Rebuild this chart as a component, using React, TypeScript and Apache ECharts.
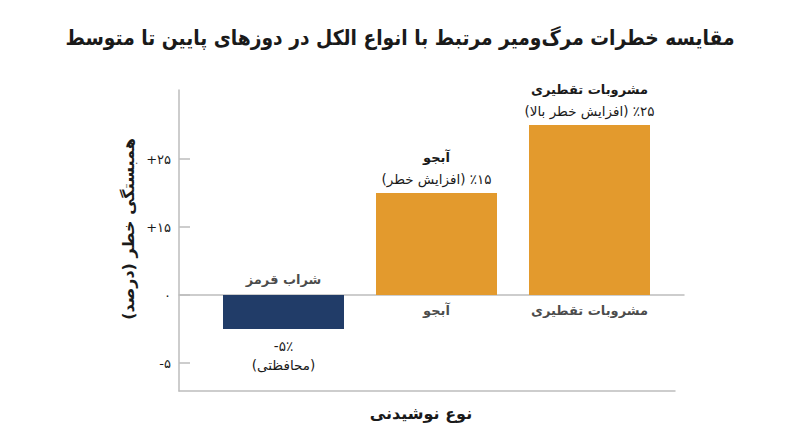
import React, { useEffect, useRef } from 'react';
import * as echarts from 'echarts';

// right-to-left marks around texts with Persian letters, so parentheses and
// numbers keep their Persian order inside the svg's ltr text
const RLM = '\u200F';
const rtl = (s: string) => (/[\u0621-\u064A\u067E-\u06D3]/.test(s) ? `${RLM}${s}${RLM}` : s);

const TITLE = 'مقایسه خطرات مرگ‌ومیر مرتبط با انواع الکل در دوزهای پایین تا متوسط';
const Y_NAME = 'همبستگی خطر (درصد)';
const X_NAME = 'نوع نوشیدنی';

const categories = ['شراب قرمز', 'آبجو', 'مشروبات تقطیری'];
const riskValues = [-5, 15, 25];
const riskNotes = [['-۵٪', '(محافظتی)'], ['٪۱۵ (افزایش خطر)'], ['٪۲۵ (افزایش خطر بالا)']];

// tick positions on the value scale and the labels the chart prints there
const yTickValues = [-10, 0, 10, 20];
const yTickLabels = ['-۵', '۰', '+۱۵', '+۲۵'];

const Y_MIN = -14.1;
const Y_MAX = 30.15;

const FONT = '"DejaVu Sans", "Noto Sans", sans-serif';
const ORANGE = '#E39A2D';
const NAVY = '#213C68';
const AXIS = '#BDBDBD';
const TEXT = '#1a1a1a';

export default function App() {
  const chartRef = useRef<HTMLDivElement | null>(null);

  useEffect(() => {
    if (!chartRef.current) return;
    const inst = echarts.init(chartRef.current, undefined, { renderer: 'svg' });

    const frame = { top: 90, height: 301 };
    const hiddenY = (gridIndex: number) => ({
      gridIndex,
      type: 'value' as const,
      min: Y_MIN,
      max: Y_MAX,
      show: false,
    });

    inst.setOption({
      animation: false,
      textStyle: { fontFamily: FONT },
      grid: [
        { left: 179, width: 505, ...frame },
        { left: 207, width: 459, ...frame },
        { left: 179, width: 496, ...frame },
      ],
      xAxis: [
        {
          gridIndex: 0,
          type: 'value',
          min: 0,
          max: 1,
          axisLine: { show: true, onZero: true, lineStyle: { color: AXIS, width: 1.5 } },
          axisTick: { show: false },
          axisLabel: { show: false },
          splitLine: { show: false },
        },
        {
          gridIndex: 1,
          type: 'category',
          data: categories,
          show: false,
        },
        {
          gridIndex: 2,
          type: 'value',
          min: 0,
          max: 1,
          position: 'bottom',
          axisLine: { show: true, onZero: false, lineStyle: { color: AXIS, width: 1.5 } },
          axisTick: { show: false },
          axisLabel: { show: false },
          splitLine: { show: false },
        },
      ],
      yAxis: [
        {
          gridIndex: 0,
          type: 'value',
          min: Y_MIN,
          max: Y_MAX,
          axisLine: { show: true, lineStyle: { color: AXIS, width: 1.5 } },
          axisTick: {
            show: true,
            inside: true,
            length: 11,
            customValues: yTickValues,
            lineStyle: { color: AXIS, width: 1.5 },
          },
          axisLabel: {
            customValues: yTickValues,
            margin: 8,
            color: TEXT,
            fontSize: 13,
            fontFamily: FONT,
            formatter: (v: number) => yTickLabels[yTickValues.indexOf(v)] ?? '',
          },
          splitLine: { show: false },
        },
        hiddenY(1),
        hiddenY(2),
      ],
      graphic: [
        {
          type: 'text',
          x: 400,
          y: 38,
          scaleX: 0.89,
          style: {
            text: rtl(TITLE),
            font: `bold 21px ${FONT}`,
            fill: TEXT,
            align: 'center',
            verticalAlign: 'middle',
          },
        },
        {
          type: 'text',
          x: 128,
          y: 229,
          rotation: Math.PI / 2,
          style: {
            text: rtl(Y_NAME),
            font: `bold 16px ${FONT}`,
            fill: TEXT,
            align: 'center',
            verticalAlign: 'middle',
          },
        },
        {
          type: 'text',
          x: 421,
          y: 413,
          style: {
            text: rtl(X_NAME),
            font: `bold 16px ${FONT}`,
            fill: TEXT,
            align: 'center',
            verticalAlign: 'middle',
          },
        },
      ],
      series: [
        {
          type: 'bar',
          xAxisIndex: 1,
          yAxisIndex: 1,
          barWidth: 121,
          data: riskValues.map((v, i) => {
            const neg = v < 0;
            const notes = riskNotes[i].map((n) => `{note|${rtl(n)}}`);
            const lines = neg ? notes : [`{name|${rtl(categories[i])}}`, ...notes];
            return {
              value: v,
              itemStyle: { color: neg ? NAVY : ORANGE },
              label: {
                show: true,
                position: neg ? 'bottom' : 'top',
                distance: neg ? 7 : 4,
                formatter: lines.join('\n'),
                rich: {
                  name: { fontFamily: FONT, fontSize: 13, fontWeight: 'bold', color: TEXT, lineHeight: 21 },
                  note: { fontFamily: FONT, fontSize: 13.5, color: TEXT, lineHeight: neg ? 19 : 21 },
                },
              },
            };
          }),
        },
        {
          type: 'scatter',
          xAxisIndex: 1,
          yAxisIndex: 1,
          symbolSize: 0.1,
          itemStyle: { color: 'transparent' },
          silent: true,
          data: categories.map((c, i) => ({
            value: [c, 0],
            label: {
              show: true,
              position: riskValues[i] < 0 ? 'top' : 'bottom',
              distance: 9,
              formatter: rtl(c),
              fontFamily: FONT,
              fontSize: 13,
              fontWeight: 'bold',
              color: TEXT,
            },
          })),
        },
      ],
    });

    return () => inst.dispose();
  }, []);

  return <div ref={chartRef} style={{ width: 800, height: 447, margin: -8 }} />;
}
